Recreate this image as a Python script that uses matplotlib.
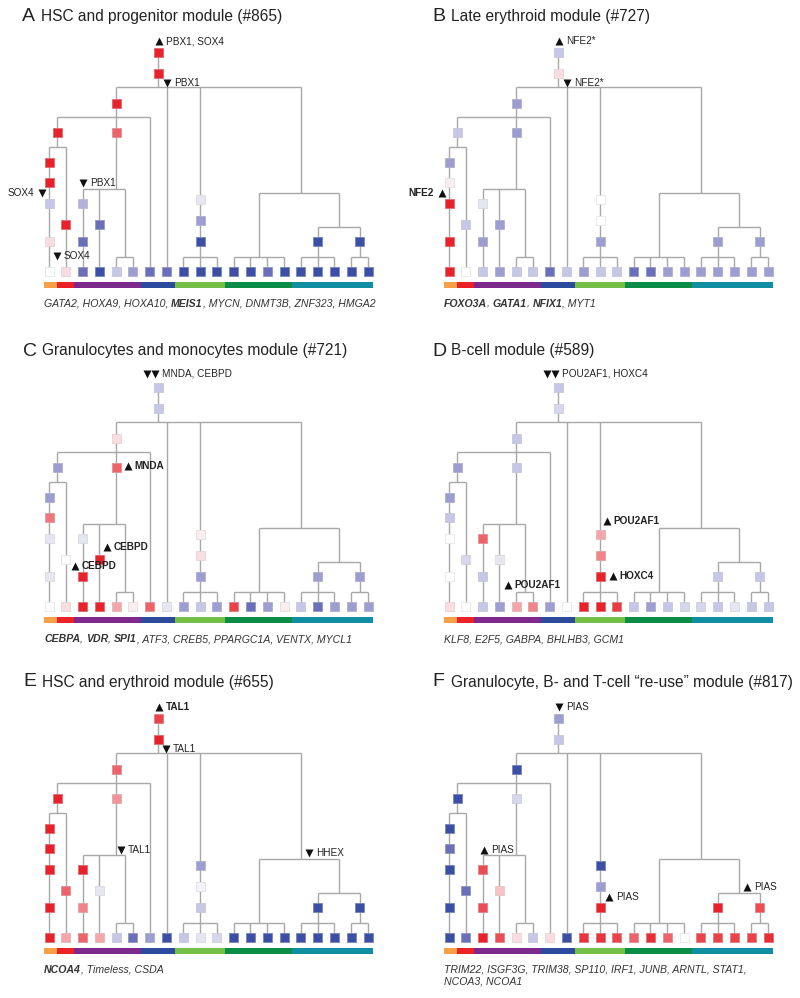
import matplotlib
matplotlib.use("Agg")
import matplotlib.pyplot as plt
import numpy as np
from matplotlib.colors import LinearSegmentedColormap, to_rgb
from matplotlib.patches import Rectangle

plt.rcParams["font.family"] = ["Liberation Sans", "DejaVu Sans"]

# --- data -------------------------------------------------------------------
letters = ["A", "B", "C", "D", "E", "F"]
titles = [
    "HSC and progenitor module (#865)",
    "Late erythroid module (#727)",
    "Granulocytes and monocytes module (#721)",
    "B-cell module (#589)",
    "HSC and erythroid module (#655)",
    "Granulocyte, B- and T-cell \u201cre-use\u201d module (#817)",
]

# leaves per cell-type group along the bottom, and the group colours
group_sizes = [1, 1, 4, 2, 3, 4, 5]
group_colors = ["#f7a048", "#ec2229", "#7d2a8c", "#2d4a9c", "#74bf45", "#0b8c47", "#108fa2"]

# expression level of the inner tree nodes (-5 = dark blue ... 0 white ... 4 = red)
# order: r1 r2 m1 e0 g0 a1 a2 a3 a4 b1 c1 c2 d1 l1 l2 l3 t1 t2
hsc_nodes = [4, 4, 4, 4, 3, 4, 4, -2, 1, 4, -2.5, -4, -4, -1, -3, -5, -5, -5]
ery_nodes = [-2, 1, -3, -2, -3, -3, 0.5, 4, 4, -2, -1, -3, -3, 0, 0, -3, -3, -3]
gran_nodes = [-2, -2, 1, -3, 3, -3, 2.7, -1, -1, 0, -1, 4, 4, 0.5, 1, -3, -3, -3]
bcell_nodes = [-2, -1.5, -2, -3, -2, -3, -2, 0, 0, -1.5, 3, -2, -1, 2, 2.5, 4, -2, -2]
hscery_nodes = [3.5, 4, 3, 4, 2.3, 4, 4, 4, 4, 3, 4, 2.5, -1, -3, -0.5, -2, -5, -5]
reuse_nodes = [-3, -2, -5, -5, -1.5, -5, -4, -5, -5, -4, 3.3, 3.3, 1.5, -5, -3, 4, 4, 3.3]

# expression level of the 20 leaves
hsc_leaves = [0, 1, -4, -5, -2, -3, -4, -4, -5, -5, -5, -5, -5, -4, -5, -5, -5, -5, -5, -5]
ery_leaves = [4, 0, -2, -3, -2, -2, -4, -2, -3, -2, -2, -4, -4, -3, -3, -3, -3, -3, -3, -3]
gran_leaves = [0, 1, 4, 4, 2, 0.5, 3, -1, -3, -2, -3, 3.5, -4, -3, 0.5, -2, -4, -3, -3, -3]
bcell_leaves = [1, 0, -2, -3, 2, 2.5, -3, 0, 4, 4, 3.6, -2, -3, -2, -1.5, -1.5, -2, -1, -2, -2]
hscery_leaves = [4, 2, 3, 2, -2, -4, -3, -5, -2, -1, -1.5, -5, -5, -5, -5, -5, -5, -5, -5, -5]
reuse_leaves = [-5, -4, 4, 3.3, 1, -2, 1, -5, 3.7, 3.7, 3.5, 3, 3.8, 3, 0, 3.5, 3.5, 3.5, 3.5, 3.8]

node_values = [hsc_nodes, ery_nodes, gran_nodes, bcell_nodes, hscery_nodes, reuse_nodes]
leaf_values = [hsc_leaves, ery_leaves, gran_leaves, bcell_leaves, hscery_leaves, reuse_leaves]

gene_lists = [
    [[("GATA2, HOXA9, HOXA10, ", False), ("MEIS1", True), (", MYCN, DNMT3B, ZNF323, HMGA2", False)]],
    [[("FOXO3A", True), (", ", False), ("GATA1", True), (", ", False), ("NFIX1", True), (", MYT1", False)]],
    [[("CEBPA", True), (", ", False), ("VDR", True), (", ", False), ("SPI1", True),
      (", ATF3, CREB5, PPARGC1A, VENTX, MYCL1", False)]],
    [[("KLF8, E2F5, GABPA, BHLHB3, GCM1", False)]],
    [[("NCOA4", True), (", Timeless, CSDA", False)]],
    [[("TRIM22, ISGF3G, TRIM38, SP110, IRF1, JUNB, ARNTL, STAT1,", False)],
     [("NCOA3, NCOA1", False)]],
]

# (x, y, text, bold, ha) in panel coordinates; leading/trailing triangles become markers
annotations = [
    [(155, 41, "\u25b2 PBX1, SOX4", False, "left"), (163, 83, "\u25bc PBX1", False, "left"),
     (79, 183, "\u25bc PBX1", False, "left"), (45, 193, "SOX4 \u25bc", False, "right"),
     (53, 256, "\u25bc SOX4", False, "left")],
    [(155, 41, "\u25b2 NFE2*", False, "left"), (163, 83, "\u25bc NFE2*", False, "left"),
     (45, 193, "NFE2 \u25b2", True, "right")],
    [(143, 39, "\u25bc\u25bc MNDA, CEBPD", False, "left"), (124, 131, "\u25b2 MNDA", True, "left"),
     (103, 212, "\u25b2 CEBPD", True, "left"), (71, 231, "\u25b2 CEBPD", True, "left")],
    [(143, 39, "\u25bc\u25bc POU2AF1, HOXC4", False, "left"), (203, 186, "\u25b2 POU2AF1", True, "left"),
     (209, 241, "\u25b2 HOXC4", True, "left"), (104, 250, "\u25b2 POU2AF1", True, "left")],
    [(155, 41, "\u25b2 TAL1", True, "left"), (162, 83, "\u25bc TAL1", False, "left"),
     (117, 184, "\u25bc TAL1", False, "left"), (305, 187, "\u25bc HHEX", False, "left")],
    [(155, 41, "\u25bc PIAS", False, "left"), (80, 184, "\u25b2 PIAS", False, "left"),
     (205, 231, "\u25b2 PIAS", False, "left"), (343, 221, "\u25b2 PIAS", False, "left")],
]

# --- layout -----------------------------------------------------------------
panel_offsets = [(0, 0), (400, 0), (0, 335), (400, 335), (0, 666), (400, 666)]
letter_x = [22, 32, 23, 32, 23, 32]

lx = np.linspace(49, 368, 20)  # leaf x positions
LEAF_Y = 271
SQ = 9
LINE_C = "#a8a8a8"
TXT_C = "#222222"

x_root = (lx[6] + lx[7]) / 2
x_ge = (lx[0] + lx[1]) / 2
x_grp = (lx[4] + lx[5]) / 2
x_dg = (lx[11] + lx[14]) / 2
x_t2 = (lx[18] + lx[19]) / 2
x_tt = (lx[16] + x_t2) / 2
x_big = 301

node_xy = [
    (x_root, 52), (x_root, 73), (lx[4], 103), (x_ge, 132), (lx[4], 132),
    (lx[0], 162), (lx[0], 182), (lx[0], 203), (lx[0], 241), (lx[1], 224),
    (lx[2], 203), (lx[2], 241), (lx[3], 224),
    (lx[9], 199), (lx[9], 220), (lx[9], 241),
    (lx[16], 241), (x_t2, 241),
]

segments = [
    ((x_root, 52), (x_root, 87)),
    ((lx[4], 87), (x_big, 87)),
    ((lx[4], 87), (lx[4], 189)),
    ((x_ge, 117), (lx[6], 117)),
    ((lx[6], 117), (lx[6], LEAF_Y)),
    ((x_ge, 117), (x_ge, 147)),
    ((lx[0], 147), (lx[1], 147)),
    ((lx[0], 147), (lx[0], LEAF_Y)),
    ((lx[1], 147), (lx[1], LEAF_Y)),
    ((lx[2], 189), (x_grp, 189)),
    ((lx[2], 189), (lx[2], LEAF_Y)),
    ((lx[3], 189), (lx[3], LEAF_Y)),
    ((x_grp, 189), (x_grp, 257)),
    ((lx[7], 87), (lx[7], LEAF_Y)),
    ((lx[9], 87), (lx[9], 257)),
    ((x_big, 87), (x_big, 193)),
    ((x_dg, 193), (x_tt, 193)),
    ((x_dg, 193), (x_dg, 257)),
    ((x_tt, 193), (x_tt, 227)),
    ((lx[16], 227), (x_t2, 227)),
    ((lx[16], 227), (lx[16], 257)),
    ((x_t2, 227), (x_t2, 257)),
]
# leaf-level forks: (first leaf, last leaf)
for a, b in [(4, 5), (8, 10), (11, 14), (15, 17), (18, 19)]:
    segments.append(((lx[a], 257), (lx[b], 257)))
    for i in range(a, b + 1):
        segments.append(((lx[i], 257), (lx[i], LEAF_Y)))

cmap = LinearSegmentedColormap.from_list(
    "expr",
    [(0.0, "#3a4fa5"), (1 / 9, "#6a6fb9"), (2 / 9, "#9d9ed1"), (3 / 9, "#c6c7e6"),
     (4 / 9, "#e6e6f3"), (5 / 9, "#ffffff"), (6 / 9, "#fadde1"), (7 / 9, "#f4a8ad"),
     (8 / 9, "#ee636a"), (1.0, "#e8212a")],
)


def level_color(v):
    return cmap((v + 5) / 9)


def edge_color(c):
    rgb = np.array(to_rgb(c))
    return tuple(rgb * 0.55 + np.array([0.78, 0.78, 0.78]) * 0.45)


fig = plt.figure(figsize=(8, 9.98), dpi=100)
ax = fig.add_axes([0, 0, 1, 1])
ax.set_xlim(0, 800)
ax.set_ylim(998, 0)
ax.axis("off")
renderer = fig.canvas.get_renderer()
inv = ax.transData.inverted()


def text_width(t):
    bb = t.get_window_extent(renderer=renderer)
    return inv.transform((bb.x1, bb.y0))[0] - inv.transform((bb.x0, bb.y0))[0]


def draw_runs(x, y, runs):
    for txt, bold in runs:
        t = ax.text(x, y, txt, fontsize=7.6, style="italic", color="#333333",
                    fontweight="bold" if bold else "normal", va="center", ha="left")
        x += text_width(t)


TRI_W = 7.0
TRI_GAP = 1.2


def draw_tri(x, y, up):
    ax.plot([x + TRI_W / 2], [y], marker="^" if up else "v", ms=5.6, color="#111111",
            mec="none", zorder=3, clip_on=False)


def annotate(x, y, txt, bold, ha):
    lead = [c for c in txt if c in "\u25b2\u25bc"]
    label = txt.strip("\u25b2\u25bc ")
    weight = "bold" if bold else "normal"
    if ha == "left":
        cx = x
        for c in lead:
            draw_tri(cx, y, c == "\u25b2")
            cx += TRI_W + TRI_GAP
        ax.text(cx + 2.5, y, label, fontsize=7.2, fontweight=weight, va="center", ha="left",
                color=TXT_C, zorder=3)
    else:
        cx = x - TRI_W
        for c in lead:
            draw_tri(cx, y, c == "\u25b2")
            cx -= TRI_W + TRI_GAP
        ax.text(cx + TRI_W - 3.0, y, label, fontsize=7.2, fontweight=weight, va="center", ha="right",
                color=TXT_C, zorder=3)


bounds = np.cumsum(group_sizes)[:-1]
bar_edges = [44] + [(lx[k - 1] + lx[k]) / 2 for k in bounds] + [373]

for p in range(6):
    dx, dy = panel_offsets[p]

    ax.text(dx + letter_x[p], dy + 16, letters[p], fontsize=14, va="center", ha="left", color=TXT_C)
    ax.text(dx + letter_x[p] + 19, dy + 16, titles[p], fontsize=11.2, va="center", ha="left", color=TXT_C)

    for (x0, y0), (x1, y1) in segments:
        ax.plot([dx + x0, dx + x1], [dy + y0, dy + y1], color=LINE_C, lw=1.0,
                solid_capstyle="butt", zorder=1)

    xy = list(node_xy) + [(x, LEAF_Y) for x in lx]
    vals = list(node_values[p]) + list(leaf_values[p])
    for (x, y), v in zip(xy, vals):
        fc = level_color(v)
        ax.add_patch(Rectangle((dx + x - SQ / 2, dy + y - SQ / 2), SQ, SQ, facecolor=fc,
                               edgecolor=edge_color(fc), lw=0.6, zorder=2))

    for k in range(len(group_sizes)):
        ax.add_patch(Rectangle((dx + bar_edges[k], dy + 282), bar_edges[k + 1] - bar_edges[k], 5.5,
                               facecolor=group_colors[k], edgecolor="none", zorder=2))

    for x, y, txt, bold, ha in annotations[p]:
        annotate(dx + x, dy + y, txt, bold, ha)

    for i, line in enumerate(gene_lists[p]):
        draw_runs(dx + 44, dy + 304 + i * 12, line)

fig.savefig("out.png", dpi=100)
